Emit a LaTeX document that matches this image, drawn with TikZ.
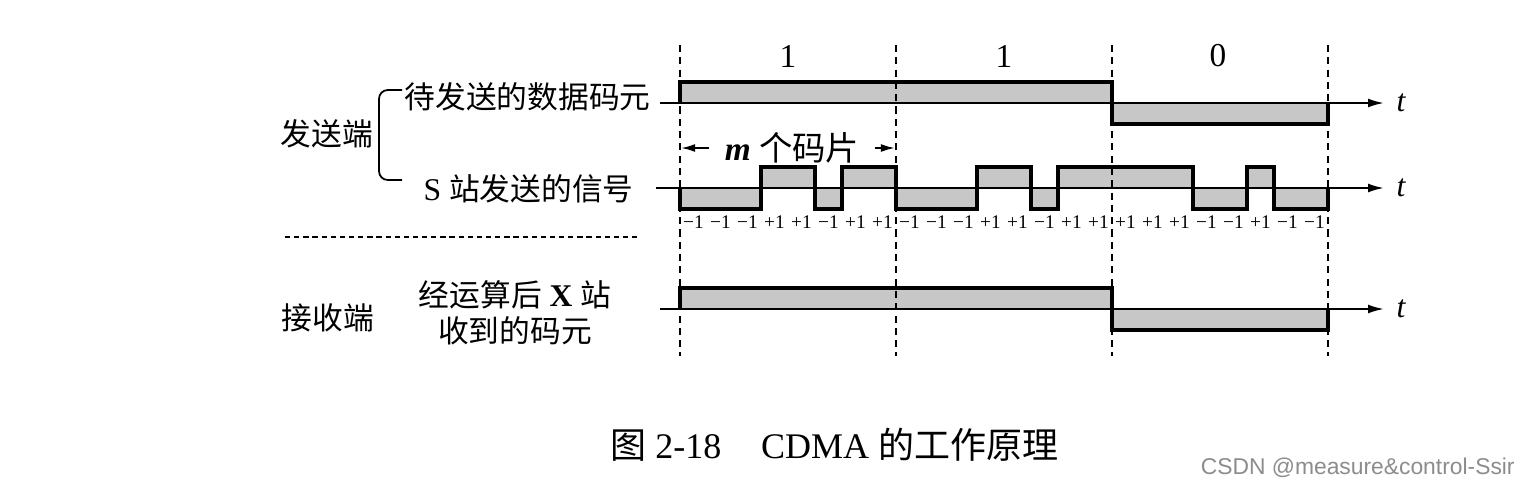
\documentclass[tikz,border=0pt]{standalone}
\usepackage{fontspec}
\setmainfont{Liberation Serif}
\newfontfamily\cjk{Noto Sans CJK SC}
\newfontfamily\wmfont{Liberation Sans}
\usetikzlibrary{positioning,arrows.meta}

\begin{document}
\begin{tikzpicture}[x=0.02cm,y=-0.02cm,
  chip/.style={fill=black!22},
  wave/.style={line width=1.8pt,line join=miter},
  axis/.style={-{Latex[length=9pt,width=5pt]},line width=1.1pt},
  grid/.style={dashed,line width=0.8pt,dash pattern=on 4pt off 3pt},
  txt/.style={font=\fontsize{17}{21}\selectfont,inner sep=0pt},
  chiplbl/.style={font=\fontsize{11}{12}\selectfont,inner sep=0pt},
  tlbl/.style={font=\fontsize{18}{20}\selectfont\itshape,inner sep=0pt},
  marr/.style={-{Latex[length=8pt,width=4.5pt]},line width=1.1pt}]
\useasboundingbox (0,0) rectangle (1528,484);
% chips of S: bits 1, 1, 0
\def\chips{-1,-1,-1,1,1,-1,1,1,-1,-1,-1,1,1,-1,1,1,1,1,1,-1,-1,1,-1,-1}
% data bits (sender) and received bits
\foreach \v [count=\i from 0] in {1,1,-1}{
  \fill[chip] (680+216*\i,103) rectangle (896+216*\i,103-21*\v);
  \fill[chip] (680+216*\i,309) rectangle (896+216*\i,309-21*\v);
}
\foreach \v [count=\i from 0] in \chips{
  \fill[chip] (680+27*\i,188) rectangle (707+27*\i,188-21*\v);
  \node[chiplbl] (c\i) at (693.5+27*\i,222) {\ifnum\v>0 +1\else −1\fi};
}
% bit boundaries
\foreach \x [count=\i] in {680,896,1112,1328}{
  \coordinate (g\i) at (\x,45);
  \coordinate (h\i) at (\x,356);
  \draw[grid] (g\i) -- (h\i);
}
\node[txt,font=\fontsize{19}{21}\selectfont] (b1) at (788,56) {1};
\node[txt,font=\fontsize{19}{21}\selectfont] (b2) at (1004,56) {1};
\node[txt,font=\fontsize{19}{21}\selectfont] (b3) at (1218,56) {0};
% time axes
\coordinate (d0) at (660,103); \coordinate (d1) at (1384,103);
\coordinate (s0) at (656,188); \coordinate (s1) at (1384,188);
\coordinate (r0) at (660,309); \coordinate (r1) at (1384,309);
\draw[axis] (d0) -- (d1);
\draw[axis] (s0) -- (s1);
\draw[axis] (r0) -- (r1);
\node[tlbl,right=7pt of d1] (td) {t};
\node[tlbl,right=7pt of s1] (ts) {t};
\node[tlbl,right=7pt of r1] (tr) {t};
% outlines
\draw[wave] (680,103) -- (680,82) -- (1112,82) -- (1112,124) -- (1328,124) -- (1328,103);
\draw[wave] (680,309) -- (680,288) -- (1112,288) -- (1112,330) -- (1328,330) -- (1328,309);
\draw[wave] (680,188) \foreach \v [count=\i from 0] in \chips{
  -- (680+27*\i,188-21*\v) -- (707+27*\i,188-21*\v)} -- (1328,188);
% m chips
\coordinate (m0) at (681,148); \coordinate (m1) at (895,148);
\node[txt,inner xsep=0.3cm] (mlbl) at (792,148) {\fontsize{19}{21}\selectfont\textbf{\textit{m}} {\cjk 个码片}};
\draw[marr] (mlbl.west) -- (m0);
\draw[marr] (mlbl.east) -- (m1);
% left labels
\node[txt,font=\cjk\fontsize{17.5}{21}\selectfont] (send) at (327,134) {发送端};
\node[txt,anchor=east,font=\cjk\fontsize{17.5}{21}\selectfont] (data) at (651,97) {待发送的数据码元};
\node[txt,anchor=east] (sig) at (634,189) {\fontsize{18}{21}\selectfont S {\cjk\fontsize{17.5}{21}\selectfont 站发送的信号}};
\coordinate (br0) at (402,90); \coordinate (br1) at (402,180);
\draw[line width=1pt,rounded corners=5pt] (br0) -- (379,90) -- (379,180) -- (br1);
\coordinate (k0) at (285,237); \coordinate (k1) at (637,237);
\draw[grid,dash pattern=on 3pt off 2.2pt] (k0) -- (k1);
\node[txt,font=\cjk\fontsize{17.5}{21}\selectfont] (recv) at (328,318) {接收端};
\node[txt] (rx1) at (515,295) {\fontsize{18}{21}\selectfont{\cjk\fontsize{17.5}{21}\selectfont 经运算后} \textbf{X} {\cjk\fontsize{17.5}{21}\selectfont 站}};
\node[txt,font=\cjk\fontsize{17.5}{21}\selectfont] (rx2) at (515,331) {收到的码元};
% caption
\node[txt,anchor=west,font=\fontsize{20.5}{24}\selectfont] (cap) at (610,445) {{\cjk 图} 2-18\hspace{1.1em}CDMA {\cjk 的工作原理}};
\node[inner sep=0pt,anchor=east,text=black!45,font=\wmfont\fontsize{13}{15}\selectfont] (wm) at (1515,468) {CSDN @measure\&control-Ssir};
\end{tikzpicture}
\end{document}
